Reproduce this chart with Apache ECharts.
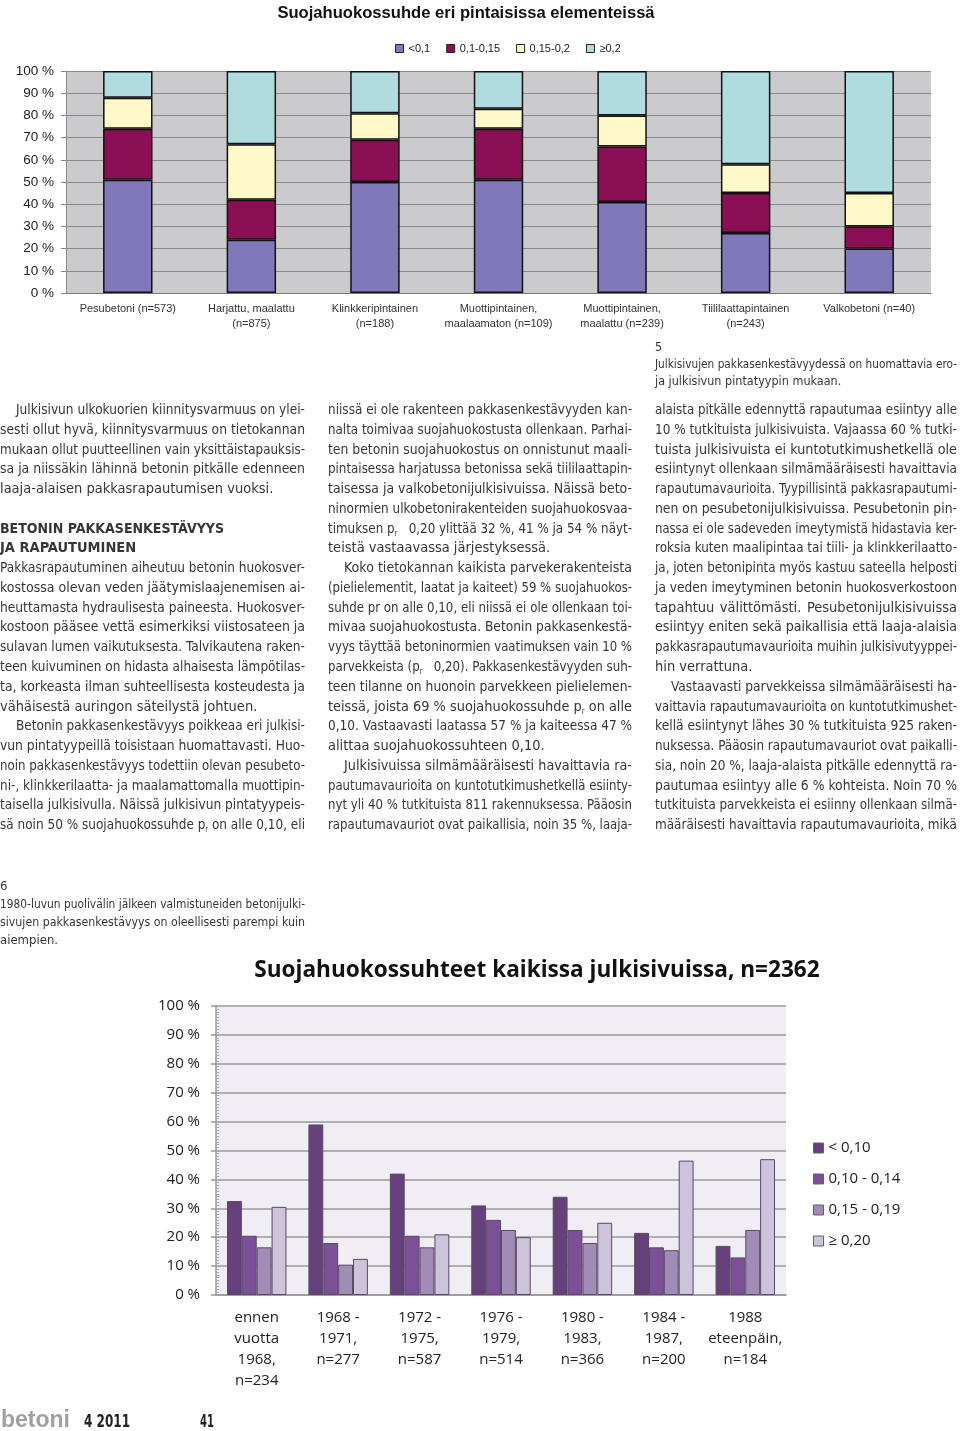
<!DOCTYPE html>
<html><head><meta charset="utf-8">
<script src="https://cdn.jsdelivr.net/npm/echarts@6/dist/echarts.min.js"></script>
<style>
html,body{margin:0;padding:0;background:#fff;}
#page{position:relative;width:960px;height:1431px;overflow:hidden;background:#fff;}
#chart{position:absolute;left:0;top:0;width:960px;height:1431px;}
.ln{position:absolute;white-space:pre;color:#363636;font-family:"Liberation Sans Narrow","DejaVu Sans Condensed","Roboto",sans-serif;}
.ln span.t{display:inline-block;transform-origin:0 50%;}
.sub{font-size:8px;vertical-align:-3px;}
</style></head><body>
<div id="page"><div id="chart"></div><div id="txt"></div></div>
<script>
// ---------- top chart data ----------
const topCategories = ['Pesubetoni (n=573)', 'Harjattu, maalattu\n(n=875)', 'Klinkkeripintainen\n(n=188)', 'Muottipintainen,\nmaalaamaton (n=109)', 'Muottipintainen,\nmaalattu (n=239)', 'Tiililaattapintainen\n(n=243)', 'Valkobetoni (n=40)'];
const topSeriesNames = ['<0,1', '0,1-0,15', '0,15-0,2', '≥0,2'];
const topLt01 = [51, 24, 50, 51, 41, 27, 20];
const top01to015 = [23, 18, 19, 23, 25, 18, 10];
const top015to02 = [14, 25, 12, 9, 14, 13, 15];
const topGe02 = [12, 33, 19, 17, 20, 42, 55];
// ---------- bottom chart data ----------
const lowCategories = ['ennen\nvuotta\n1968,\nn=234', '1968 -\n1971,\nn=277', '1972 -\n1975,\nn=587', '1976 -\n1979,\nn=514', '1980 -\n1983,\nn=366', '1984 -\n1987,\nn=200', '1988\neteenpäin,\nn=184'];
const lowSeriesNames = ['< 0,10', '0,10 - 0,14', '0,15 - 0,19', '≥ 0,20'];
const lowLt010 = [32.5, 59, 42, 31, 34, 21.5, 17];
const low010to014 = [20.5, 18, 20.5, 26, 22.5, 16.5, 13];
const low015to019 = [16.5, 10.5, 16.5, 22.5, 18, 15.5, 22.5];
const lowGe020 = [30.5, 12.5, 21, 20, 25, 46.5, 47];

const topColors = ['#8078B8', '#8B0F55', '#FFF8C8', '#B0DCE0'];
const lowColors = ['#65407B', '#7B5096', '#A08CB4', '#CDC3DA'];
const topData = [topLt01, top01to015, top015to02, topGe02];
const lowData = [lowLt010, low010to014, low015to019, lowGe020];

const arial = 'Liberation Sans, Arial, sans-serif';
const calibri = 'Open Sans, Lato, sans-serif';

const chart = echarts.init(document.getElementById('chart'), null, {renderer: 'canvas'});
const series = [];
topSeriesNames.forEach((n, i) => series.push({
  name: n, type: 'bar', stack: 'top', xAxisIndex: 0, yAxisIndex: 0, barWidth: '40%',
  data: topData[i], itemStyle: {color: topColors[i], borderColor: '#111', borderWidth: 1.5}
}));
lowSeriesNames.forEach((n, i) => series.push({
  name: n, type: 'bar', xAxisIndex: 1, yAxisIndex: 1, barGap: '0%', barCategoryGap: '27%',
  data: lowData[i], itemStyle: {color: lowColors[i], borderColor: '#5a4a68', borderWidth: 1}
}));

chart.setOption({
  animation: false,
  title: [
    {text: 'Suojahuokossuhde eri pintaisissa elementeissä', left: 461, top: 0, textAlign: 'center',
     textStyle: {fontFamily: arial, fontSize: 16.6, fontWeight: 'bold', color: '#111'}},
    {text: 'Suojahuokossuhteet kaikissa julkisivuissa, n=2362', left: 532, top: 954, textAlign: 'center',
     textStyle: {fontFamily: calibri, fontSize: 22.6, fontWeight: 'bold', color: '#111'}}
  ],
  legend: [
    {data: topSeriesNames, left: 395, top: 43, itemWidth: 8, itemHeight: 8, itemGap: 16, padding: 0,
     icon: 'rect', textStyle: {fontFamily: arial, fontSize: 11, color: '#222'},
     itemStyle: {borderColor: '#222', borderWidth: 1}},
    {data: lowSeriesNames, orient: 'vertical', left: 813, top: 1139, itemWidth: 10, itemHeight: 10, itemGap: 13, padding: 0,
     icon: 'rect', textStyle: {fontFamily: calibri, fontSize: 15, color: '#222', lineHeight: 18},
     itemStyle: {borderColor: '#6a5a78', borderWidth: 1}}
  ],
  grid: [
    {left: 66, top: 71, width: 865, height: 222, show: true, backgroundColor: '#CBCBCE', borderWidth: 0},
    {left: 216, top: 1006, width: 570, height: 289, show: true, backgroundColor: '#F0EEF4', borderWidth: 0}
  ],
  xAxis: [
    {type: 'category', gridIndex: 0, data: topCategories,
     axisLine: {lineStyle: {color: '#777'}}, axisTick: {length: 4, lineStyle: {color: '#777'}},
     axisLabel: {interval: 0, fontFamily: arial, fontSize: 11, color: '#333', lineHeight: 15, margin: 8}},
    {type: 'category', gridIndex: 1, data: lowCategories,
     axisLine: {lineStyle: {color: '#999', width: 1.5}}, axisTick: {length: 6, lineStyle: {color: '#999', width: 1.5}},
     axisLabel: {interval: 0, fontFamily: calibri, fontSize: 15, color: '#222', lineHeight: 21, margin: 12}}
  ],
  yAxis: [
    {type: 'value', gridIndex: 0, min: 0, max: 100, interval: 10,
     axisLine: {show: true, lineStyle: {color: '#888'}}, axisTick: {show: true, length: 5, lineStyle: {color: '#888'}},
     splitLine: {lineStyle: {color: '#8a8a8a', width: 1}},
     axisLabel: {formatter: '{value} %', fontFamily: arial, fontSize: 13.5, color: '#222', margin: 12}},
    {type: 'value', gridIndex: 1, min: 0, max: 100, interval: 10, position: 'left',
     axisLine: {show: true, lineStyle: {color: '#999', width: 1.5}}, axisTick: {show: true, length: 5, lineStyle: {color: '#999', width: 1.5}},
     splitLine: {lineStyle: {color: '#9a9a9e', width: 1.5}},
     axisLabel: {formatter: '{value} %', fontFamily: calibri, fontSize: 15, color: '#222', margin: 16}},
    {type: 'value', gridIndex: 1, min: 0, max: 100, interval: 10, position: 'left', offset: 0,
     axisLine: {show: false}, axisTick: {show: false, inside: true}, splitLine: {show: false},
     axisLabel: {show: false},
     minorTick: {show: true, splitNumber: 10, length: 3, lineStyle: {color: '#aaa'}}}
  ],
  series: series
});

// ---------- body text ----------
const R = '<span class="sub">r</span>';
const col1 = [
  ['Julkisivun ulkokuorien kiinnitysvarmuus on ylei-', 'ij'],
  ['sesti ollut hyvä, kiinnitysvarmuus on tietokannan', 'j'],
  ['mukaan ollut puutteellinen vain yksittäistapauksis-', 'j'],
  ['sa ja niissäkin lähinnä betonin pitkälle edenneen', 'j'],
  ['laaja-alaisen pakkasrapautumisen vuoksi.', ''],
  ['', ''],
  ['BETONIN PAKKASENKESTÄVYYS', 'h'],
  ['JA RAPAUTUMINEN', 'h'],
  ['Pakkasrapautuminen aiheutuu betonin huokosver-', 'j'],
  ['kostossa olevan veden jäätymislaajenemisen ai-', 'j'],
  ['heuttamasta hydraulisesta paineesta. Huokosver-', 'j'],
  ['kostoon pääsee vettä esimerkiksi viistosateen ja', 'j'],
  ['sulavan lumen vaikutuksesta. Talvikautena raken-', 'j'],
  ['teen kuivuminen on hidasta alhaisesta lämpötilas-', 'j'],
  ['ta, korkeasta ilman suhteellisesta kosteudesta ja', 'j'],
  ['vähäisestä auringon säteilystä johtuen.', ''],
  ['Betonin pakkasenkestävyys poikkeaa eri julkisi-', 'ij'],
  ['vun pintatyypeillä toisistaan huomattavasti. Huo-', 'j'],
  ['noin pakkasenkestävyys todettiin olevan pesubeto-', 'j'],
  ['ni-, klinkkerilaatta- ja maalamattomalla muottipin-', 'j'],
  ['taisella julkisivulla. Näissä julkisivun pintatyypeis-', 'j'],
  ['sä noin 50 % suojahuokossuhde p' + R + ' on alle 0,10, eli', 'j']
];
const col2 = [
  ['niissä ei ole rakenteen pakkasenkestävyyden kan-', 'j'],
  ['nalta toimivaa suojahuokostusta ollenkaan. Parhai-', 'j'],
  ['ten betonin suojahuokostus on onnistunut maali-', 'j'],
  ['pintaisessa harjatussa betonissa sekä tiililaattapin-', 'j'],
  ['taisessa ja valkobetonijulkisivuissa. Näissä beto-', 'j'],
  ['ninormien ulkobetonirakenteiden suojahuokosvaa-', 'j'],
  ['timuksen p' + R + '\u00a0\u00a0\u00a00,20 ylittää 32 %, 41 % ja 54 % näyt-', 'j'],
  ['teistä vastaavassa järjestyksessä.', ''],
  ['Koko tietokannan kaikista parvekerakenteista', 'ij'],
  ['(pielielementit, laatat ja kaiteet) 59 % suojahuokos-', 'j'],
  ['suhde pr on alle 0,10, eli niissä ei ole ollenkaan toi-', 'j'],
  ['mivaa suojahuokostusta. Betonin pakkasenkestä-', 'j'],
  ['vyys täyttää betoninormien vaatimuksen vain 10 %', 'j'],
  ['parvekkeista (p' + R + '\u00a0\u00a0\u00a00,20). Pakkasenkestävyyden suh-', 'j'],
  ['teen tilanne on huonoin parvekkeen pielielemen-', 'j'],
  ['teissä, joista 69 % suojahuokossuhde p' + R + ' on alle', 'j'],
  ['0,10. Vastaavasti laatassa 57 % ja kaiteessa 47 %', 'j'],
  ['alittaa suojahuokossuhteen 0,10.', ''],
  ['Julkisivuissa silmämääräisesti havaittavia ra-', 'ij'],
  ['pautumavaurioita on kuntotutkimushetkellä esiinty-', 'j'],
  ['nyt yli 40 % tutkituista 811 rakennuksessa. Pääosin', 'j'],
  ['rapautumavauriot ovat paikallisia, noin 35 %, laaja-', 'j']
];
const col3 = [
  ['alaista pitkälle edennyttä rapautumaa esiintyy alle', 'j'],
  ['10 % tutkituista julkisivuista. Vajaassa 60 % tutki-', 'j'],
  ['tuista julkisivuista ei kuntotutkimushetkellä ole', 'j'],
  ['esiintynyt ollenkaan silmämääräisesti havaittavia', 'j'],
  ['rapautumavaurioita. Tyypillisintä pakkasrapautumi-', 'j'],
  ['nen on pesubetonijulkisivuissa. Pesubetonin pin-', 'j'],
  ['nassa ei ole sadeveden imeytymistä hidastavia ker-', 'j'],
  ['roksia kuten maalipintaa tai tiili- ja klinkkerilaatto-', 'j'],
  ['ja, joten betonipinta myös kastuu sateella helposti', 'j'],
  ['ja veden imeytyminen betonin huokosverkostoon', 'j'],
  ['tapahtuu välittömästi. Pesubetonijulkisivuissa', 'j'],
  ['esiintyy eniten sekä paikallisia että laaja-alaisia', 'j'],
  ['pakkasrapautumavaurioita muihin julkisivutyyppei-', 'j'],
  ['hin verrattuna.', ''],
  ['Vastaavasti parvekkeissa silmämääräisesti ha-', 'ij'],
  ['vaittavia rapautumavaurioita on kuntotutkimushet-', 'j'],
  ['kellä esiintynyt lähes 30 % tutkituista 925 raken-', 'j'],
  ['nuksessa. Pääosin rapautumavauriot ovat paikalli-', 'j'],
  ['sia, noin 20 %, laaja-alaista pitkälle edennyttä ra-', 'j'],
  ['pautumaa esiintyy alle 6 % kohteista. Noin 70 %', 'j'],
  ['tutkituista parvekkeista ei esiinny ollenkaan silmä-', 'j'],
  ['määräisesti havaittavia rapautumavaurioita, mikä', 'j']
];
const cap5 = [
  ['5', ''],
  ['Julkisivujen pakkasenkestävyydessä on huomattavia ero-', 'j'],
  ['ja julkisivun pintatyypin mukaan.', '']
];
const cap6 = [
  ['6', ''],
  ['1980-luvun puolivälin jälkeen valmistuneiden betonijulki-', 'j'],
  ['sivujen pakkasenkestävyys on oleellisesti parempi kuin', 'j'],
  ['aiempien.', '']
];

const txt = document.getElementById('txt');
const made = [];
function block(lines, x, yc, w, lh, fs) {
  lines.forEach((l, i) => {
    if (!l[0]) return;
    const d = document.createElement('div');
    d.className = 'ln';
    const ind = l[1].includes('i') ? 16 : 0;
    d.style.left = (x + ind) + 'px';
    d.style.top = (yc + i * lh - lh / 2) + 'px';
    d.style.height = lh + 'px';
    d.style.lineHeight = lh + 'px';
    d.style.fontSize = fs + 'px';
    const s = document.createElement('span');
    s.className = 't';
    s.innerHTML = l[0];
    let avail = w - ind;
    if (l[1].includes('h')) { s.style.fontWeight = 'bold'; avail = 224; }
    d.appendChild(s);
    txt.appendChild(d);
    made.push({s, avail: avail, just: l[1].includes('j')});
  });
}
block(col1, 0, 410, 305, 19.76, 14.5);
block(col2, 328, 410, 304, 19.76, 14.5);
block(col3, 655, 410, 302, 19.76, 14.5);
block(cap5, 655, 346, 302, 17, 12.5);
block(cap6, 0, 886, 305, 18, 13);

// footer
function foot(t, x, yc, fs, color, fam, w) {
  const d = document.createElement('div');
  d.className = 'ln';
  d.style.left = x + 'px'; d.style.top = (yc - fs * 0.7) + 'px';
  d.style.fontSize = fs + 'px'; d.style.lineHeight = (fs * 1.4) + 'px';
  d.style.color = color; d.style.fontWeight = 'bold';
  if (fam) d.style.fontFamily = fam;
  const s = document.createElement('span');
  s.className = 't';
  s.textContent = t;
  d.appendChild(s);
  txt.appendChild(d);
  made.push({s, avail: w, just: false});
}
foot('betoni', 1, 1419, 23, '#a0a0a0', 'Liberation Sans, Arial, sans-serif', 70);
foot('4 2011', 84, 1422, 17, '#222', null, 46);
foot('41', 200, 1422, 17, '#222', null, 14);

function fit() {
  made.forEach(m => {
    m.s.style.wordSpacing = '0px';
    m.s.style.transform = '';
    const nat = m.s.getBoundingClientRect().width;
    const sp = (m.s.textContent.match(/ /g) || []).length;
    if (nat > m.avail) {
      m.s.style.transform = 'scaleX(' + (m.avail / nat) + ')';
    } else if (m.just && sp > 0) {
      m.s.style.wordSpacing = ((m.avail - nat) / sp) + 'px';
    }
  });
}
fit();
if (document.fonts && document.fonts.ready) document.fonts.ready.then(fit);
</script>
</body></html>
